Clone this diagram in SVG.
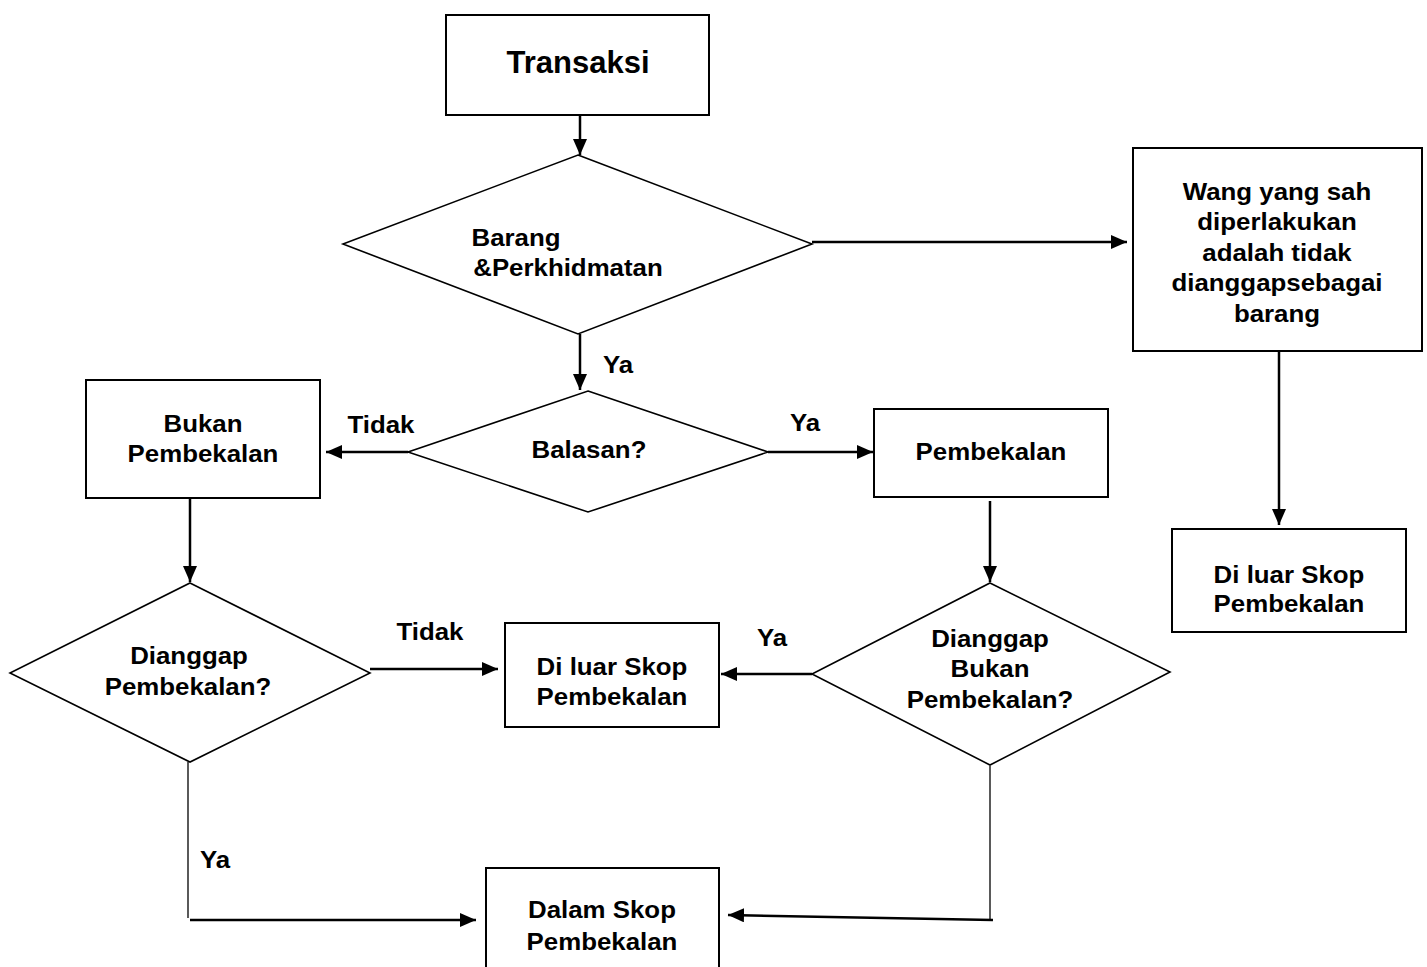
<svg xmlns="http://www.w3.org/2000/svg" width="1427" height="967" viewBox="0 0 1427 967">
<style>
.box{fill:#fff;stroke:#000;stroke-width:2}
.dia{fill:#fff;stroke:#000;stroke-width:1.6}
.con{fill:none;stroke:#000;stroke-width:2.5}
.thin{fill:none;stroke:#000;stroke-width:1.3}
text{font-family:"Liberation Sans",Arial,sans-serif;font-weight:bold;font-size:23.5px;fill:#000;text-anchor:middle;transform-box:fill-box;transform-origin:center;transform:scaleX(1.1)}
text.big{font-size:31px;transform:none}
</style>
<defs>
<marker id="ah" markerUnits="userSpaceOnUse" markerWidth="16" markerHeight="14" refX="16" refY="7" orient="auto">
<path d="M0,0 L16,7 L0,14 z" fill="#000"/>
</marker>
</defs>
<rect width="1427" height="967" fill="#fff"/>
<g id="connectors">
<path class="con" d="M580,115 V155" marker-end="url(#ah)"/>
<path class="con" d="M812,242 H1127" marker-end="url(#ah)"/>
<path class="con" d="M1279,351 V525" marker-end="url(#ah)"/>
<path class="con" d="M580,334 V390" marker-end="url(#ah)"/>
<path class="con" d="M408,452 H326" marker-end="url(#ah)"/>
<path class="con" d="M768,452 H873" marker-end="url(#ah)"/>
<path class="con" d="M190,498 V582" marker-end="url(#ah)"/>
<path class="con" d="M370,669 H498" marker-end="url(#ah)"/>
<path class="con" d="M990,501 V582" marker-end="url(#ah)"/>
<path class="con" d="M812,674 H721" marker-end="url(#ah)"/>
<path class="thin" d="M188,762 V918"/>
<path class="con" d="M190,920 H476" marker-end="url(#ah)"/>
<path class="thin" d="M990,766 V919"/>
<path class="con" d="M993,920 L728,915" marker-end="url(#ah)"/>
<text x="618" y="373">Ya</text>
<text x="381" y="433">Tidak</text>
<text x="805" y="431">Ya</text>
<text x="430" y="640">Tidak</text>
<text x="772" y="646">Ya</text>
<text x="215" y="868">Ya</text>
</g>
<g id="transaksi">
<rect class="box" x="446" y="15" width="263" height="100"/>
<text class="big" x="578" y="73">Transaksi</text>
</g>
<g id="barang">
<polygon class="dia" points="578,155 812,244 578,334 343,244"/>
<text x="516" y="246">Barang</text>
<text x="568" y="276">&amp;Perkhidmatan</text>
</g>
<g id="wang">
<rect class="box" x="1133" y="148" width="289" height="203"/>
<text x="1277" y="200">Wang yang sah</text>
<text x="1277" y="230.5">diperlakukan</text>
<text x="1277" y="261">adalah tidak</text>
<text x="1277" y="291.5">dianggapsebagai</text>
<text x="1277" y="322">barang</text>
</g>
<g id="diluar-kanan">
<rect class="box" x="1172" y="529" width="234" height="103"/>
<text x="1289" y="583">Di luar Skop</text>
<text x="1289" y="612">Pembekalan</text>
</g>
<g id="balasan">
<polygon class="dia" points="588,391 768,452 588,512 408,452"/>
<text x="589" y="458">Balasan?</text>
</g>
<g id="bukan">
<rect class="box" x="86" y="380" width="234" height="118"/>
<text x="203" y="432">Bukan</text>
<text x="203" y="462">Pembekalan</text>
</g>
<g id="pembekalan">
<rect class="box" x="874" y="409" width="234" height="88"/>
<text x="991" y="460">Pembekalan</text>
</g>
<g id="dianggap">
<polygon class="dia" points="190,583 370,673 190,762 10,673"/>
<text x="189" y="664">Dianggap</text>
<text x="188" y="695">Pembekalan?</text>
</g>
<g id="diluar-tengah">
<rect class="box" x="505" y="623" width="214" height="104"/>
<text x="612" y="675">Di luar Skop</text>
<text x="612" y="705">Pembekalan</text>
</g>
<g id="dianggap-bukan">
<polygon class="dia" points="990,583 1170,672 990,765 812,674"/>
<text x="990" y="647">Dianggap</text>
<text x="990" y="677">Bukan</text>
<text x="990" y="708">Pembekalan?</text>
</g>
<g id="dalam">
<rect class="box" x="486" y="868" width="233" height="112"/>
<text x="602" y="918">Dalam Skop</text>
<text x="602" y="950">Pembekalan</text>
</g>
</svg>
